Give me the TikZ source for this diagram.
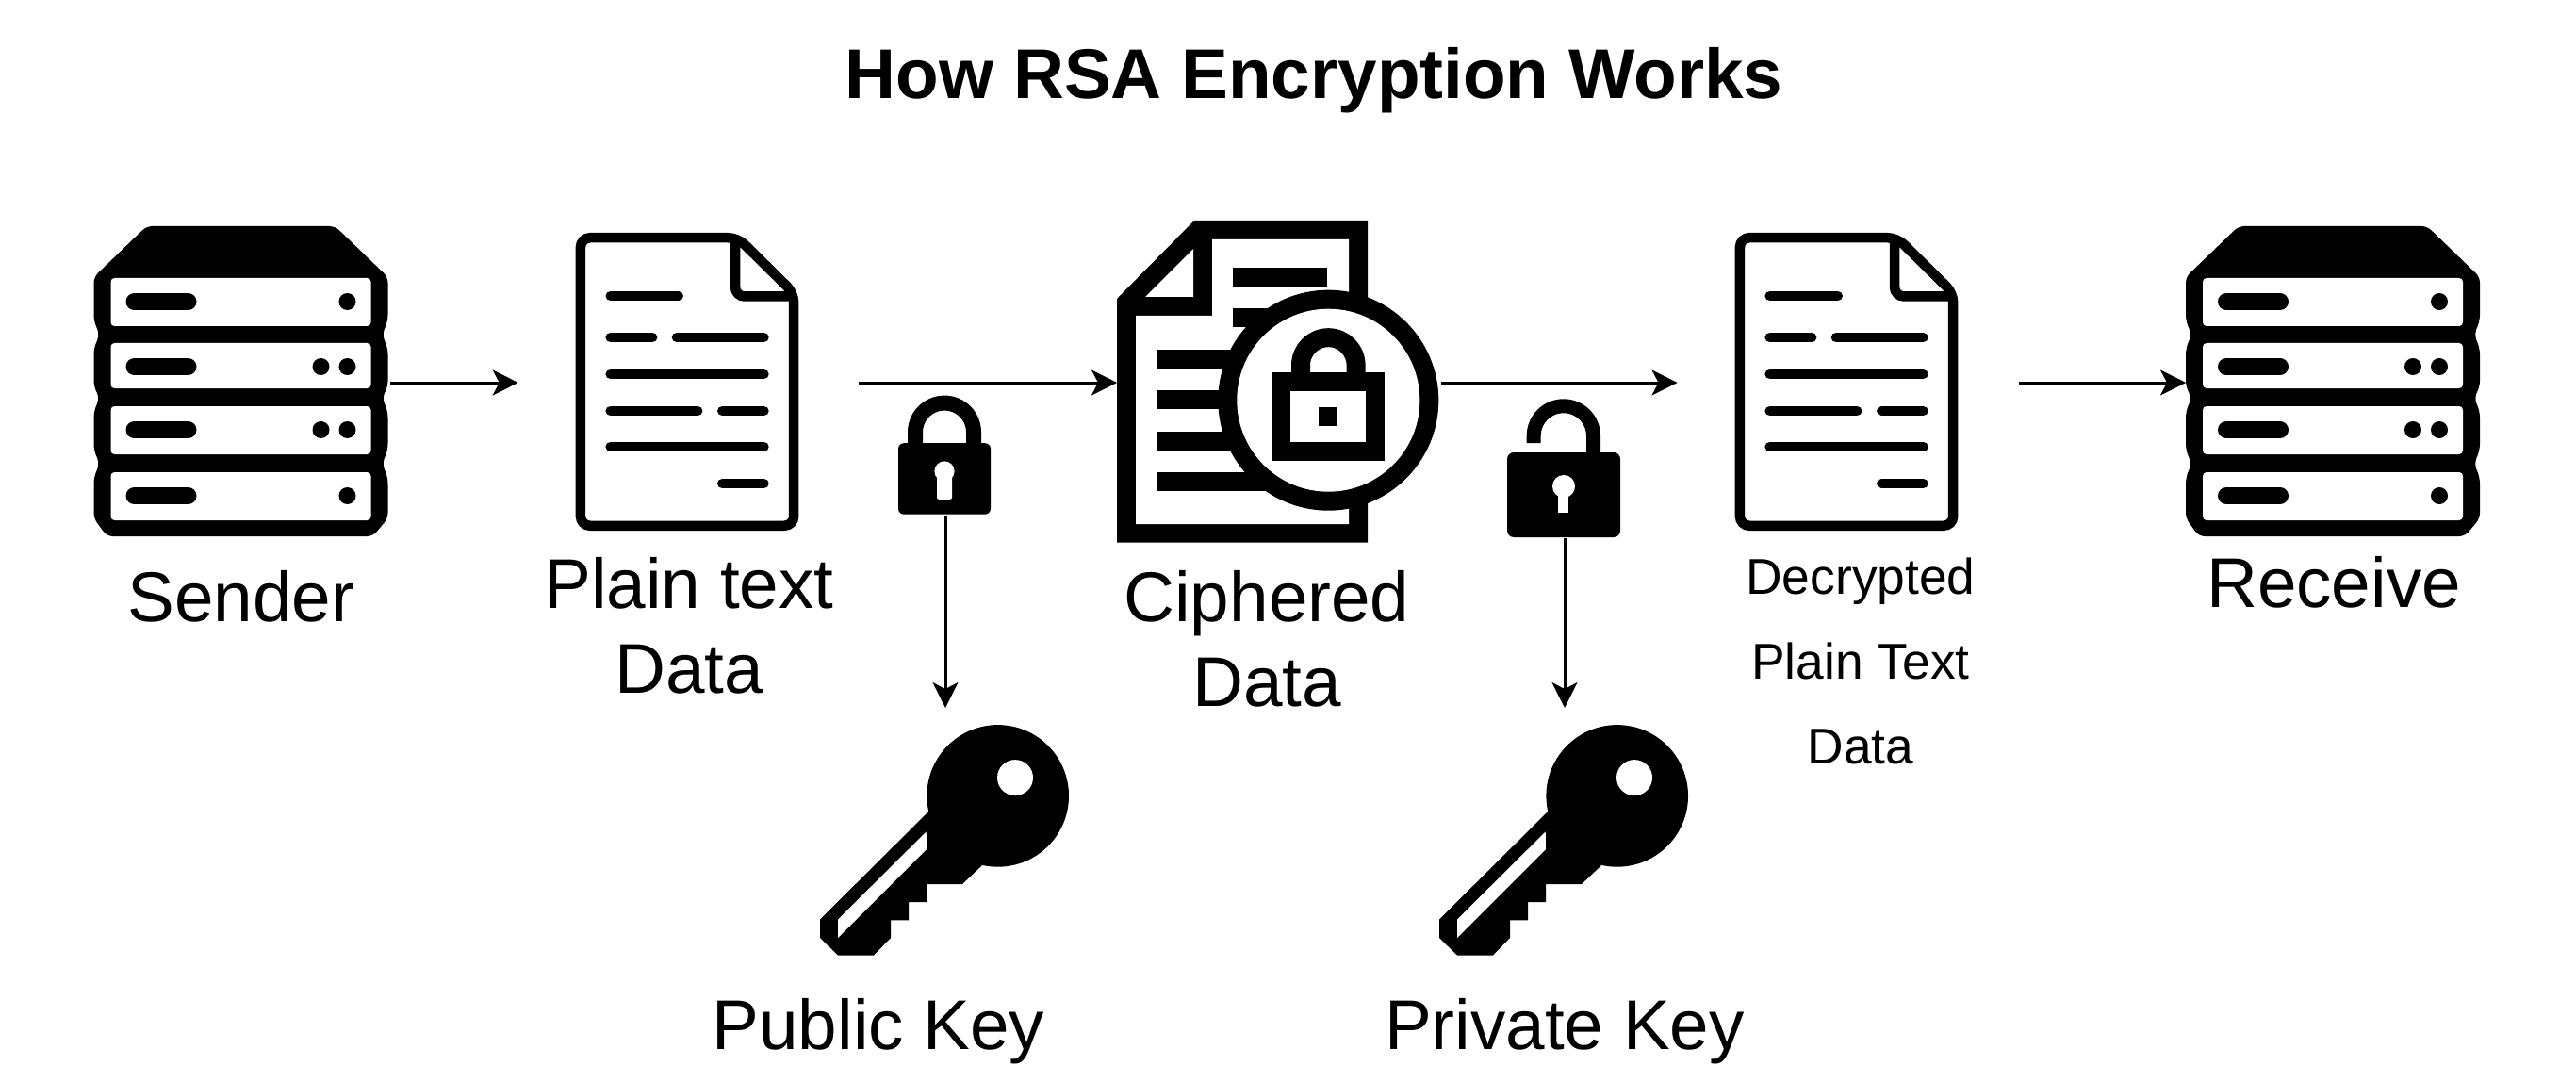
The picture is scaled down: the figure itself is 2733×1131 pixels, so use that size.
\documentclass[tikz,border=0pt]{standalone}
\usepackage{fontspec}
\setmainfont{Liberation Sans}
\usetikzlibrary{arrows.meta,positioning}
\tikzset{
  server/.pic={
    \fill[rounded corners=6pt] (56,0) -- (256,0) -- (312,54) -- (312,100) -- (306,115) -- (312,130) -- (312,170)
      -- (306,182) -- (312,197) -- (312,237) -- (306,252) -- (312,267) -- (312,310) -- (296,329) -- (14,329)
      -- (0,310) -- (0,267) -- (6,252) -- (0,237) -- (0,197) -- (6,182) -- (0,170) -- (0,130) -- (6,115)
      -- (0,100) -- (0,54) -- cycle;
    \foreach \t/\b/\m in {55/106/80,124/172/149,191/242/216,261/312/286}{
      \fill[white,rounded corners=4pt] (18,\t) rectangle (294,\b);
      \draw[line width=18pt,line cap=round] (43,\m) -- (100,\m);
      \fill (269,\m) circle (9pt);
    }
    \foreach \m in {149,216}{
      \fill (241,\m) circle (9pt);
    }
  },
  paper/.pic={
    \draw[line width=10.5pt,rounded corners=10pt] (172,5.25) -- (5.25,5.25) -- (5.25,310.75) -- (231.5,310.75)
      -- (231.5,64) -- cycle;
    \draw[line width=10.5pt,rounded corners=10pt] (169.3,5.25) -- (169.3,67.5) -- (231.5,67.5);
    \foreach \y/\a/\b in {67/37/109,111/37/81.4,111/107.3/199.7,150/37/199.7,189/37/129.4,189/155.6/199.7,227/37/199.7,266/155.6/199.7}{
      \draw[line width=10.6pt,line cap=round] (\a,\y) -- (\b,\y);
    }
  },
  keyicon/.pic={
    \fill (188.7,75) circle (75.3pt);
    \fill (115,91.8) -- (0,206.1) -- (0,225.6) -- (19,244.1) -- (57,244.1) -- (75,225.6) -- (75,206.9) -- (94,206.9)
      -- (94,187.7) -- (113,187.7) -- (113,168.6) -- (151,168.6) -- (171.7,149) -- cycle;
    \fill[white] (207,55.7) circle (19pt);
    \fill[white] (112.7,113) -- (19,206.1) -- (19,225.6) -- (113,131.8) -- cycle;
  }
}
\begin{document}
\begin{tikzpicture}[x=1pt,y=-1pt,
    icon/.style={inner sep=0pt,outer sep=0pt},
    iconlab/.style={inner sep=0pt,align=center,font=\fontsize{74.67pt}{90pt}\selectfont},
    smalllab/.style={inner sep=0pt,align=center,font=\fontsize{53.33pt}{90pt}\selectfont},
    flow/.style={line width=3pt,-{Stealth[length=27pt,width=27pt,inset=7pt]}}]
    \useasboundingbox (0,0) rectangle (2733,1131);

    \node (title) [inner sep=0pt,anchor=base,font=\fontsize{74.67pt}{90pt}\selectfont\bfseries] at (1394,105) {How RSA Encryption Works};

    \node (sender) [icon,minimum width=314pt,minimum height=330pt] at (256.5,406) {};
    \node (plain) [icon,minimum width=237pt,minimum height=316pt] at (729.2,406) {};
    \node (cipher) [icon,minimum width=344pt,minimum height=344pt] at (1357,406) {};
    \node (plainout) [icon,minimum width=237pt,minimum height=316pt] at (1959,406) {};
    \node (receiver) [icon,minimum width=312pt,minimum height=330pt] at (2475,406) {};
    \node (publock) [icon,minimum width=100pt,minimum height=128pt] at (1003,483) {};
    \node (privlock) [icon,minimum width=120pt,minimum height=148pt] at (1660,497) {};

    \node (plainin) [icon,left=60pt of plain] {};
    \node (plainnext) [icon,right=62pt of plain] {};
    \node (outin) [icon,left=60pt of plainout] {};
    \node (outnext) [icon,right=63pt of plainout] {};
    \node (pubdrop) [icon,below=204pt of publock] {};
    \node (privdrop) [icon,below=180pt of privlock] {};

    \pic at (99.5,240) {server};
    \pic at (2319,240) {server};
    \pic at (610.7,247) {paper};
    \pic at (1840.7,247) {paper};
    \pic at (870,769.4) {keyicon};
    \pic at (1527,769.4) {keyicon};

    \fill (1267,234) -- (1451,234) -- (1451,575.7) -- (1185,575.7) -- (1185,317) -- cycle;
    \fill[white] (1286,254) -- (1431,254) -- (1431,556) -- (1205,556) -- (1205,335) -- (1286,335) -- cycle;
    \fill[white] (1266,264) -- (1266,315) -- (1215,315) -- cycle;
    \fill (1307.7,284) rectangle (1407.7,304);
    \fill (1307.7,327) rectangle (1409,347);
    \foreach \y in {371,414,458,501}{
      \fill (1228,\y) rectangle (1409,\y+20);
    }
    \fill (1409.3,424.7) circle (117pt);
    \fill[white] (1409.3,424.7) circle (97pt);
    \draw[line width=20pt] (1380,397) -- (1380,387.5) arc[start angle=180,end angle=0,radius=29.3pt] -- (1438.6,397);
    \fill (1349,395) rectangle (1469,489);
    \fill[white] (1369,415) rectangle (1449,469);
    \fill (1399,432) rectangle (1419,452);

    \draw[line width=16pt] (971,472) -- (971,458.6) arc[start angle=180,end angle=0,radius=31pt] -- (1033,472);
    \fill[rounded corners=6pt] (953,470.2) rectangle (1051,545.7);
    \fill[white] (1002,500) circle (10.6pt);
    \fill[white,rounded corners=2pt] (994,502) rectangle (1010,529.8);

    \draw[line width=15pt] (1627.2,470) -- (1627.2,462.45) arc[start angle=180,end angle=0,radius=31.65pt] -- (1690.5,481);
    \fill[rounded corners=7pt] (1599,480) rectangle (1719,570);
    \fill[white] (1659,516) circle (12pt);
    \fill[white] (1653.3,518) rectangle (1664.3,543.7);

    \draw[flow] (sender) -- (plainin);
    \draw[flow] (plainnext) -- (cipher);
    \draw[flow] (cipher) -- (outin);
    \draw[flow] (outnext) -- (receiver);
    \draw[flow] (publock) -- (pubdrop);
    \draw[flow] (privlock) -- (privdrop);

    \node (senderlab) [iconlab,anchor=base] at (256,659.5) {Sender};
    \node (plainlab) [iconlab,anchor=base] at (731,735) {Plain text\\Data};
    \node (cipherlab) [iconlab,anchor=base] at (1344,749) {Ciphered\\Data};
    \node (outlab) [smalllab,anchor=base] at (1974,810) {Decrypted\\Plain Text\\Data};
    \node (receivelab) [iconlab,anchor=base] at (2476,644.5) {Receive};
    \node (publab) [iconlab,anchor=base] at (932,1113) {Public Key};
    \node (privlab) [iconlab,anchor=base] at (1660,1113) {Private Key};
\end{tikzpicture}
\end{document}
